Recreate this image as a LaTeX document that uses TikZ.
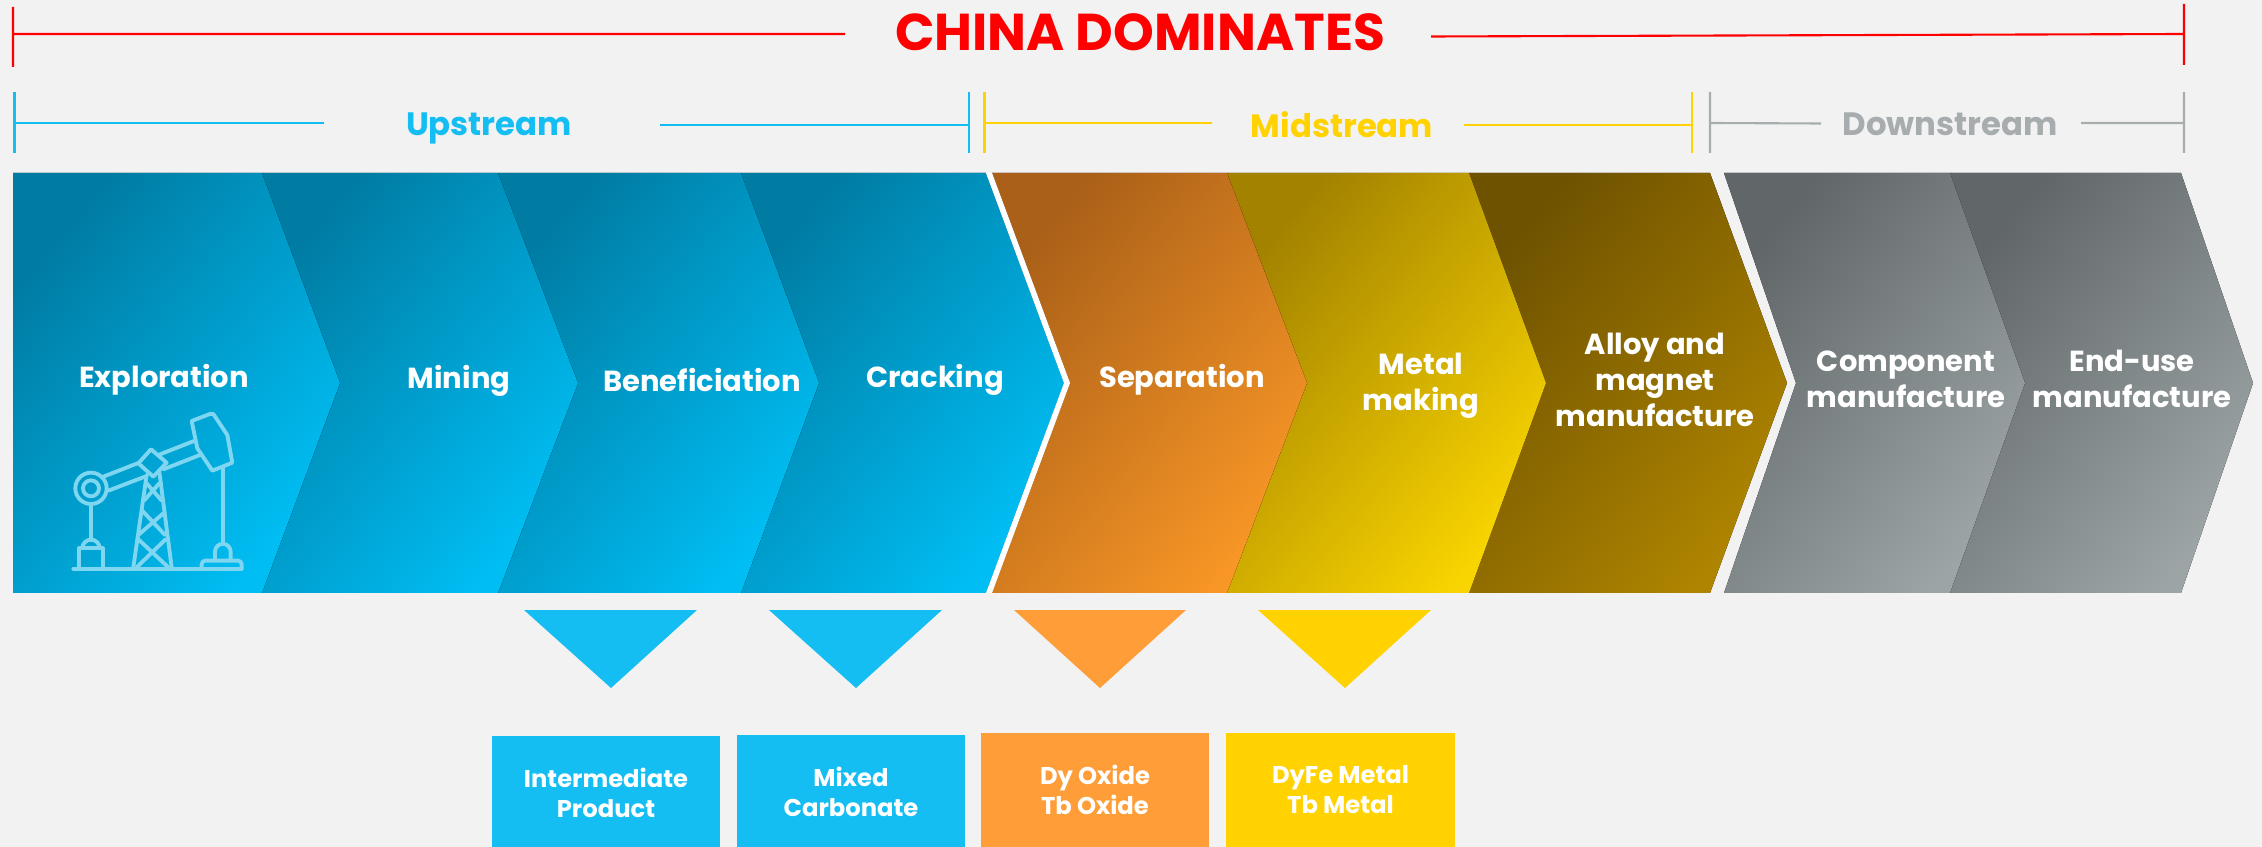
\documentclass[tikz,border=0pt]{standalone}
\usepackage{fontspec}
\setmainfont{Poppins}
\usepackage{xcolor}
\definecolor{pagegray}{HTML}{F2F2F2}
\definecolor{chinared}{HTML}{FF0000}
\definecolor{upblue}{HTML}{14BDF2}
\definecolor{midyellow}{HTML}{FFD200}
\definecolor{downgray}{HTML}{A7ACAE}
\definecolor{oxideorange}{HTML}{FF9E38}
\definecolor{iconblue}{HTML}{7FD6F0}
\definecolor{bluedark}{HTML}{007CA3}
\definecolor{bluemid}{HTML}{00AFE2}
\definecolor{bluelight}{HTML}{00BEF4}
\definecolor{orangedark}{HTML}{AA6018}
\definecolor{orangemid}{HTML}{E48726}
\definecolor{orangelight}{HTML}{F89626}
\definecolor{yellowdark}{HTML}{A38200}
\definecolor{yellowmid}{HTML}{E0BA00}
\definecolor{yellowlight}{HTML}{F8D400}
\definecolor{browndark}{HTML}{6E5200}
\definecolor{brownmid}{HTML}{947100}
\definecolor{brownlight}{HTML}{AE8400}
\definecolor{graydark}{HTML}{616769}
\definecolor{graymid}{HTML}{868F90}
\definecolor{graylight}{HTML}{9CA4A6}
\tikzset{
    chevron/.style n args={3}{top color=#1, middle color=#2, bottom color=#3, shading angle=50},
    steplabel/.style={text=white, font=\fontsize{16.5}{20.5}\selectfont\bfseries, align=center},
    boxlabel/.style={text=white, font=\fontsize{13.8}{17}\selectfont\bfseries, align=center, minimum width=4.58cm, minimum height=2.28cm, inner sep=0pt},
    headlabel/.style={font=\fontsize{18.4}{20}\selectfont\bfseries},
    bracket/.style={line width=1.2pt},
    iconline/.style={draw=iconblue, line width=2.2pt, line join=round, line cap=round},
}
\begin{document}
\begin{tikzpicture}[x=0.02cm,y=-0.02cm]
        %POLA
        \fill[pagegray] (0,0) rectangle (2262,847);
        \useasboundingbox (0,0) rectangle (2262,847);
        %CHEVRON
        \fill[chevron={graydark}{graymid}{graylight}] (1950,173) -- (2181,173) -- (2253,383) -- (2181,593) -- (1950,593) -- cycle;
        \fill[chevron={graydark}{graymid}{graylight}] (1724,173) -- (1950,173) -- (2025,383) -- (1950,593) -- (1724,593) -- (1796,383) -- cycle;
        \fill[chevron={browndark}{brownmid}{brownlight}] (1469,173) -- (1710,173) -- (1787,383) -- (1710,593) -- (1469,593) -- cycle;
        \fill[chevron={yellowdark}{yellowmid}{yellowlight}] (1227,173) -- (1469,173) -- (1546,383) -- (1469,593) -- (1227,593) -- cycle;
        \fill[chevron={orangedark}{orangemid}{orangelight}] (992,173) -- (1227,173) -- (1307,383) -- (1227,593) -- (992,593) -- (1070,383) -- cycle;
        \fill[chevron={bluedark}{bluemid}{bluelight}] (741,173) -- (986,173) -- (1064,383) -- (986,593) -- (741,593) -- cycle;
        \fill[chevron={bluedark}{bluemid}{bluelight}] (498,173) -- (741,173) -- (819,383) -- (741,593) -- (498,593) -- cycle;
        \fill[chevron={bluedark}{bluemid}{bluelight}] (262,173) -- (498,173) -- (578,383) -- (498,593) -- (262,593) -- cycle;
        \fill[chevron={bluedark}{bluemid}{bluelight}] (13,173) -- (262,173) -- (340,383) -- (262,593) -- (13,593) -- cycle;
        \fill[white] (986,173) -- (992,173) -- (1070,383) -- (992,593) -- (986,593) -- (1064,383) -- cycle;
        %LABEL
        \node[steplabel] (exploration) at (164,380) {Exploration};
        \node[steplabel] (mining) at (459,381) {Mining};
        \node[steplabel] (beneficiation) at (702,380) {Beneficiation};
        \node[steplabel] (cracking) at (935,380) {Cracking};
        \node[steplabel] (separation) at (1182,380) {Separation};
        \node[steplabel] (metal) at (1421,386) {Metal\\making};
        \node[steplabel] (alloy) at (1655,380) {Alloy and\\magnet\\manufacture};
        \node[steplabel] (component) at (1906,379) {Component\\manufacture};
        \node[steplabel] (enduse) at (2132,379) {End-use\\manufacture};
        %JUDUL
        \node[text=chinared, font=\fontsize{29.5}{32}\selectfont\bfseries] (china) at (1140,32) {CHINA DOMINATES};
        \node[headlabel, text=upblue] (upstream) at (489,128) {Upstream};
        \node[headlabel, text=midyellow] (midstream) at (1342,125) {Midstream};
        \node[headlabel, text=downgray] (downstream) at (1950,124) {Downstream};
        %KOORDINAT
        \coordinate (RL) at (13,34);
        \coordinate (RLe) at (845,34);
        \coordinate (RRe) at (1431,36.5);
        \coordinate (RR) at (2184,34);
        \coordinate (UL) at (14.5,123);
        \coordinate (ULe) at (324,123);
        \coordinate (URe) at (660,125);
        \coordinate (UR) at (969,125);
        \coordinate (ML) at (984.5,123);
        \coordinate (MLe) at (1212,123);
        \coordinate (MRe) at (1464,125);
        \coordinate (MR) at (1692,125);
        \coordinate (DL) at (1710,123);
        \coordinate (DLe) at (1821,123.5);
        \coordinate (DRe) at (2081,123);
        \coordinate (DR) at (2184,123);
        %GARIS
        \draw[bracket, chinared] (13,7) -- (13,67) (RL) -- (RLe) (RRe) -- (RR) (2184,4) -- (2184,65);
        \draw[bracket, upblue] (UL |- 0,92) -- (UL |- 0,153) (UL) -- (ULe) (URe) -- (UR) (UR |- 0,92) -- (UR |- 0,153);
        \draw[bracket, midyellow] (ML |- 0,92) -- (ML |- 0,153) (ML) -- (MLe) (MRe) -- (MR) (MR |- 0,92) -- (MR |- 0,153);
        \draw[bracket, downgray] (DL |- 0,92) -- (DL |- 0,153) (DL) -- (DLe) (DRe) -- (DR) (DR |- 0,92) -- (DR |- 0,153);
        %SEGITIGA
        \fill[upblue] (524,610) -- (697,610) -- (611,688) -- cycle;
        \fill[upblue] (769,610) -- (942,610) -- (856,688) -- cycle;
        \fill[oxideorange] (1014,610) -- (1186,610) -- (1100,688) -- cycle;
        \fill[midyellow] (1258,610) -- (1431,610) -- (1345,688) -- cycle;
        %KOTAK
        \node[boxlabel, fill=upblue] (intermediate) at (606,793) {Intermediate\\Product};
        \node[boxlabel, fill=upblue] (mixed) at (851,792) {Mixed\\Carbonate};
        \node[boxlabel, fill=oxideorange] (oxide) at (1095,790) {Dy Oxide\\Tb Oxide};
        \node[boxlabel, fill=midyellow] (metalbox) at (1340.5,790) {DyFe Metal\\Tb Metal};
        %POMPA
        \begin{scope}[shift={(0,380)},x=0.02cm/3,y=-0.02cm/3]
            \draw[iconline] (220,566) -- (725,566);
            \draw[iconline, rounded corners=2pt] (605,566) -- (605,542) -- (725,542) -- (725,566);
            \draw[iconline] (645,540) -- (645,515) arc[start angle=180, end angle=360, radius=23.5] -- (692,540);
            \draw[iconline] (668,490) -- (668,265);
            \draw[iconline] (575,123) -- (630,102) -- (640,102) -- (682,165) -- (697,248) -- (637,272) -- (592,205) -- cycle;
            \draw[iconline] (305,292) -- (420,247) (475,225) -- (582,183);
            \draw[iconline] (325,332) -- (440,288) (490,268) -- (600,225);
            \draw[iconline] (273,325) circle[radius=47];
            \draw[iconline] (273,325) circle[radius=24];
            \draw[iconline] (273,372) -- (273,480);
            \draw[iconline] (238,566) -- (238,505) -- (308,505) -- (308,566);
            \draw[iconline] (247,505) arc[start angle=180, end angle=360, radius=26];
            \draw[iconline] (453,208) -- (500,248) -- (460,290) -- (415,250) -- cycle;
            \draw[iconline] (440,285) -- (400,562);
            \draw[iconline] (478,275) -- (515,562);
            \draw[iconline] (440,310) -- (485,362) (478,310) -- (432,362);
            \draw[iconline] (425,390) -- (495,465) (490,400) -- (415,465);
            \draw[iconline] (415,478) -- (505,562) (497,478) -- (410,562);
        \end{scope}
\end{tikzpicture}
\end{document}
